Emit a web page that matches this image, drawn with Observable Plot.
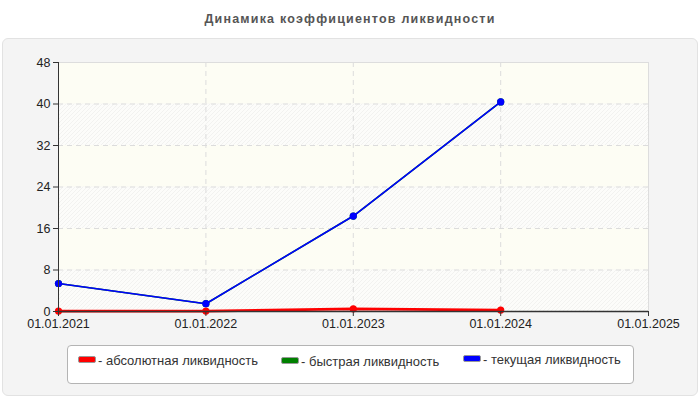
<!DOCTYPE html>
<html>
<head>
<meta charset="utf-8">
<script src="https://cdn.jsdelivr.net/npm/d3@7"></script>
<script src="https://cdn.jsdelivr.net/npm/@observablehq/plot@0.6"></script>
<style>
  body { margin: 0; background: #fff; width: 700px; height: 400px; position: relative; overflow: hidden;
         font-family: "Liberation Sans", Arial, sans-serif; }
  #title { position: absolute; left: 0; top: 12px; width: 700px; text-align: center;
           font-weight: bold; font-size: 12.5px; letter-spacing: 1.2px; color: #555; }
  #panel { position: absolute; left: 2px; top: 38px; width: 694px; height: 356px;
           background: #f4f4f4; border: 1px solid #e2e2e2; border-radius: 6px; }
  #chart { position: absolute; left: 0; top: 38px; }
  #legend { position: absolute; left: 67px; top: 345px; width: 565px; height: 37px;
            background: #fff; border: 1px solid #b4b4b4; border-radius: 4px; }
  .item { position: absolute; font-size: 13px; line-height: 15px; color: #333; white-space: nowrap; }
  .sw { display: inline-block; width: 16px; height: 5px; border-radius: 2px; border: 1px solid #999;
        vertical-align: middle; margin-right: 2px; position: relative; top: -2px; }
</style>
</head>
<body>
<div id="title">Динамика коэффициентов ликвидности</div>
<div id="panel"></div>
<div id="chart"></div>
<div id="legend"></div>
<script>
// ---- data ----
const dates = ["2021-01-01", "2022-01-01", "2023-01-01", "2024-01-01"];
const seriesNames = ["абсолютная ликвидность", "быстрая ликвидность", "текущая ликвидность"];
const seriesColors = ["#ff0000", "#008000", "#0000ff"];
const absoluteLiquidity = [0.08, 0.08, 0.5, 0.27];
const quickLiquidity = [5.4, 1.5, 18.4, 40.4];
const currentLiquidity = [5.4, 1.5, 18.4, 40.4];
const seriesValues = [absoluteLiquidity, quickLiquidity, currentLiquidity];
const xTickDates = ["2021-01-01", "2022-01-01", "2023-01-01", "2024-01-01", "2025-01-01"];
const yTicks = [0, 8, 16, 24, 32, 40, 48];

// ---- build ----
const parse = d3.utcParse("%Y-%m-%d");
const xTicks = xTickDates.map(parse);
const xDomain = [xTicks[0], xTicks[xTicks.length - 1]];
const rows = [];
seriesValues.forEach((vals, s) => {
  vals.forEach((v, i) => rows.push({series: seriesNames[s], date: parse(dates[i]), value: v, idx: s}));
});
const bands = yTicks.slice(0, -1).map((t, i) => ({y1: t, y2: yTicks[i + 1], hatched: i % 2 === 0}));
const lineWidths = [2.8, 1.6, 1.6];

const marks = [
  Plot.rect(bands, {x1: () => xDomain[0], x2: () => xDomain[1], y1: "y1", y2: "y2",
    fill: d => d.hatched ? "url(#hatch)" : "#fdfdf4"}),
  Plot.ruleY(yTicks.slice(1), {stroke: "#dcdcdc", strokeDasharray: "5,4", strokeWidth: 1}),
  Plot.ruleX(xTicks.slice(1, -1), {stroke: "#dcdcdc", strokeDasharray: "5,4", strokeWidth: 1}),
  Plot.ruleY([yTicks[yTicks.length - 1]], {stroke: "#dddddd"}),
  Plot.ruleX([xDomain[1]], {stroke: "#dddddd"}),
];
seriesNames.forEach((name, s) => {
  const data = rows.filter(r => r.idx === s);
  marks.push(Plot.line(data, {x: "date", y: "value", stroke: seriesColors[s], strokeWidth: lineWidths[s]}));
  marks.push(Plot.dot(data, {x: "date", y: "value", fill: seriesColors[s], r: 3.6, stroke: "none"}));
});
marks.push(
  Plot.ruleX([xDomain[0]], {stroke: "#333", strokeWidth: 1}),
  Plot.ruleY([0], {stroke: "#333", strokeWidth: 1.5}),
  Plot.axisY({ticks: yTicks, tickSize: 5, tickPadding: 3, stroke: "#333", fill: "#222", fontSize: 12.5}),
  Plot.axisX({ticks: xTicks, tickSize: 5, tickPadding: 3, stroke: "#333", fill: "#222", fontSize: 12.5,
    tickFormat: d3.utcFormat("%d.%m.%Y")})
);

const chart = Plot.plot({
  width: 700,
  height: 303,
  marginLeft: 58,
  marginRight: 52,
  marginTop: 24,
  marginBottom: 30,
  style: {background: "transparent", fontFamily: "'Liberation Sans', Arial, sans-serif", fontSize: "12.5px", color: "#222"},
  x: {type: "utc", domain: xDomain},
  y: {domain: [yTicks[0], yTicks[yTicks.length - 1]]},
  marks
});

// hatch pattern
const svg = d3.select(chart);
const defs = svg.insert("defs", ":first-child");
const pat = defs.append("pattern").attr("id", "hatch").attr("patternUnits", "userSpaceOnUse")
  .attr("width", 4).attr("height", 4);
pat.append("rect").attr("width", 4).attr("height", 4).attr("fill", "#fcfcfa");
pat.append("path").attr("d", "M-1,1 l2,-2 M0,4 l4,-4 M3,5 l2,-2").attr("stroke", "#eeeeec").attr("stroke-width", 0.7);

document.getElementById("chart").appendChild(chart);

// legend
const legend = document.getElementById("legend");
const legendX = [10, 213, 395];
const legendY = [7, 8, 6];
seriesNames.forEach((name, s) => {
  const it = document.createElement("div");
  it.className = "item";
  it.style.left = legendX[s] + "px";
  it.style.top = legendY[s] + "px";
  it.innerHTML = `<span class="sw" style="background:${seriesColors[s]}"></span>- ${name}`;
  legend.appendChild(it);
});
</script>
</body>
</html>
